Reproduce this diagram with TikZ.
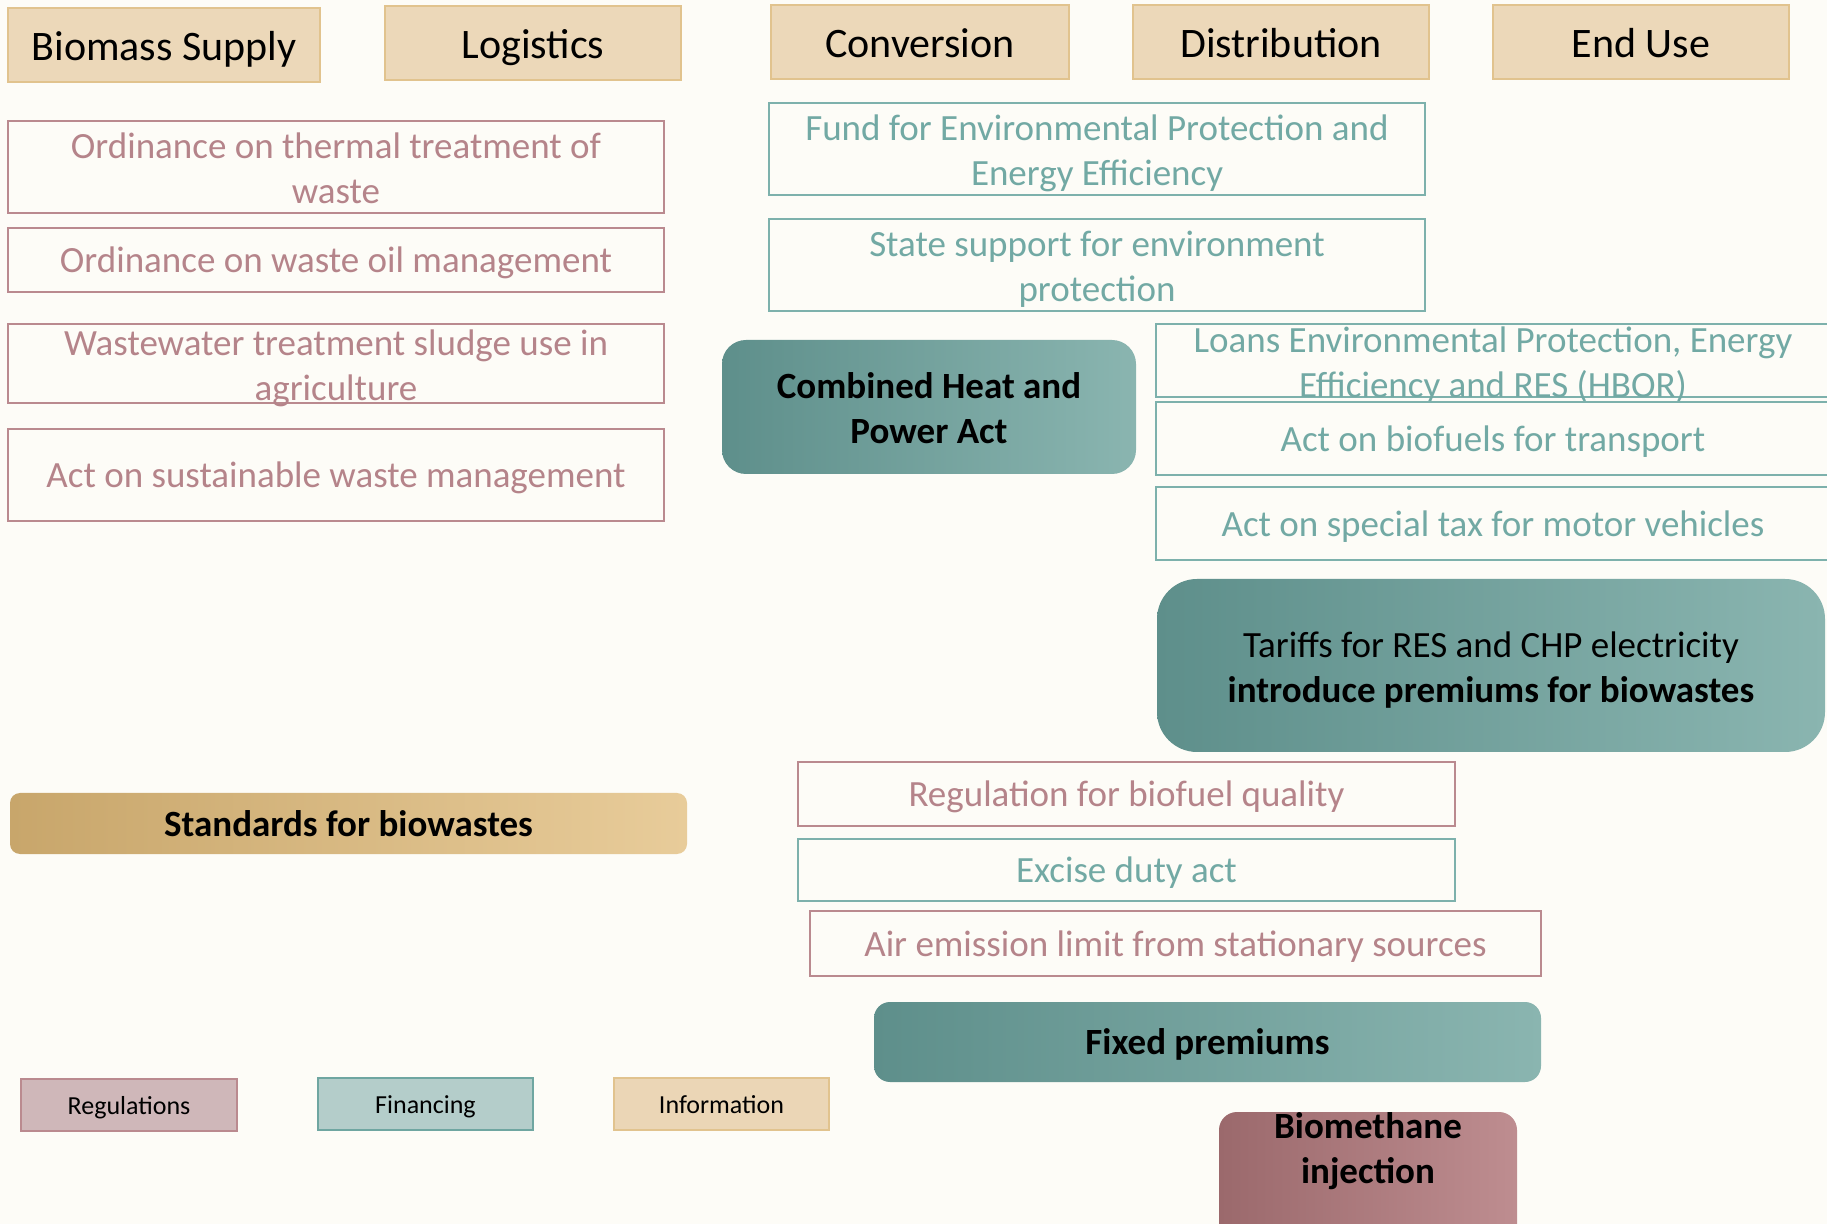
\documentclass[tikz,border=0pt]{standalone}
\usepackage{fontspec}
\setmainfont{Carlito}
\definecolor{bg}{HTML}{FDFCF7}
\definecolor{head}{HTML}{ECD8B9}
\definecolor{headLine}{HTML}{E1C38E}
\definecolor{reg}{HTML}{B5848A}
\definecolor{regLine}{HTML}{BA8A8F}
\definecolor{fin}{HTML}{72A9A4}
\definecolor{finLine}{HTML}{7DB1AC}
\definecolor{finDark}{HTML}{5E8F8B}
\definecolor{finLight}{HTML}{8AB5B0}
\definecolor{infoDark}{HTML}{C8A66B}
\definecolor{infoLight}{HTML}{E8CC9A}
\definecolor{regDark}{HTML}{9B696C}
\definecolor{regLight}{HTML}{BE8D90}
\definecolor{keyReg}{HTML}{CFB7B9}
\definecolor{keyFin}{HTML}{B4CDCA}
\definecolor{keyInfo}{HTML}{EBD6B6}
\definecolor{keyFinLine}{HTML}{6FA6A1}
% two lines of text that may spill over their box
\newcommand{\twolines}[2][-0.4pt]{\raisebox{#1}[0pt][0pt]{\begin{tabular}{@{}c@{}}#2\end{tabular}}}
\newcommand{\bodystrut}{\rule[-4.6pt]{0pt}{22.1pt}}
\tikzset{head/.style={black,draw=headLine,fill=head,rectangle,line width=1pt,inner sep=0pt,minimum height=37pt,font=\fontsize{21}{25}\selectfont,execute at begin node={\rule[-6.1pt]{0pt}{28.1pt}}}}
\tikzset{reg/.style={text=reg,draw=regLine,rectangle,line width=1pt,inner sep=0pt,font=\fontsize{18.5}{22.5}\selectfont,execute at begin node=\bodystrut}}
\tikzset{fin/.style={text=fin,draw=finLine,rectangle,line width=1pt,inner sep=0pt,font=\fontsize{18.5}{22.5}\selectfont,execute at begin node=\bodystrut}}
\tikzset{finBlock/.style={black,left color=finDark,right color=finLight,rounded corners=12pt,inner sep=0pt,font=\fontsize{18.5}{22.5}\selectfont\bfseries,execute at begin node=\bodystrut}}
\tikzset{infoBlock/.style={black,left color=infoDark,right color=infoLight,rounded corners=5pt,inner sep=0pt,font=\fontsize{18.5}{22.5}\selectfont\bfseries,execute at begin node=\bodystrut}}
\tikzset{regBlock/.style={black,left color=regDark,right color=regLight,rounded corners=9pt,inner sep=0pt,font=\fontsize{18.5}{22.5}\selectfont\bfseries,execute at begin node=\bodystrut}}
\tikzset{legendBox/.style={black,rectangle,line width=1pt,inner sep=0pt,minimum width=107.5pt,minimum height=26pt,font=\fontsize{13}{16}\selectfont,execute at begin node={\rule[-3pt]{0pt}{15pt}}}}
\begin{document}
\begin{tikzpicture}[x=0.5pt,y=-0.5pt]
\fill[bg] (0,0) rectangle (1827,1224);
\useasboundingbox (0,0) rectangle (1827,1224);
\clip (0,0) rectangle (1827,1224);

% value chain stages
\node[head,minimum width=156pt] (supply) at (164,45) {Biomass Supply};
\node[head,minimum width=148pt] (logistics) at (533,43) {Logistics};
\node[head,minimum width=149pt] (conversion) at (920,42) {Conversion};
\node[head,minimum width=148pt] (distribution) at (1281,42) {Distribution};
\node[head,minimum width=148pt] (enduse) at (1641,42) {End Use};

% regulations on the supply side
\node[reg,minimum width=328pt,minimum height=46pt] (thermal) at (336,167) {\twolines{Ordinance on thermal treatment of\\waste}};
\node[reg,minimum width=328pt,minimum height=32pt] (oil) at (336,260) {Ordinance on waste oil management};
\node[reg,minimum width=328pt,minimum height=39.5pt] (sludge) at (336,363.5) {\twolines{Wastewater treatment sludge use in\\agriculture}};
\node[reg,minimum width=328pt,minimum height=46pt] (waste) at (336,475) {Act on sustainable waste management};

% financing
\node[fin,minimum width=328pt,minimum height=46pt] (fund) at (1097,149) {\twolines{Fund for Environmental Protection and\\Energy Efficiency}};
\node[fin,minimum width=328pt,minimum height=46pt] (state) at (1097,265) {\twolines{State support for environment\\protection}};
\node[fin,minimum width=337pt,minimum height=36.5pt] (loans) at (1493,360.5) {\twolines{Loans Environmental Protection, Energy\\Efficiency and RES (HBOR)}};
\node[fin,minimum width=337pt,minimum height=36.5pt] (biofuels) at (1493,438.5) {Act on biofuels for transport};
\node[fin,minimum width=337pt,minimum height=36.5pt] (tax) at (1493,523.5) {Act on special tax for motor vehicles};

\node[finBlock,minimum width=207pt,minimum height=67pt] (chp) at (929,407) {\twolines{Combined Heat and\\Power Act}};
\node[finBlock,rounded corners=20pt,minimum width=334pt,minimum height=86.5pt,font=\fontsize{18.5}{22.5}\selectfont] (tariffs) at (1491,665.5) {\twolines{Tariffs for RES and CHP electricity\\\textbf{introduce premiums for biowastes}}};

\node[infoBlock,minimum width=338.5pt,minimum height=30.5pt] (standards) at (348.5,823.5) {Standards for biowastes};

\node[reg,minimum width=328.5pt,minimum height=32pt] (quality) at (1126.5,794) {Regulation for biofuel quality};
\node[fin,minimum width=328.5pt,minimum height=31pt] (excise) at (1126.5,870) {Excise duty act};
\node[reg,minimum width=365.5pt,minimum height=32.5pt] (air) at (1175.5,943.5) {Air emission limit from stationary sources};
\node[finBlock,rounded corners=8pt,minimum width=333.5pt,minimum height=40pt] (fixed) at (1207.5,1042) {Fixed premiums};
\node[regBlock,minimum width=149pt,minimum height=74pt] (biomethane) at (1368,1186) {\twolines[19.2pt]{Biomethane\\injection}};

% legend
\node[legendBox,draw=regLine,fill=keyReg,minimum width=108pt] (lreg) at (129,1105) {Regulations};
\node[legendBox,draw=keyFinLine,fill=keyFin] (lfin) at (425.5,1104) {Financing};
\node[legendBox,draw=headLine,fill=keyInfo] (linfo) at (721.5,1104) {Information};
\end{tikzpicture}
\end{document}
